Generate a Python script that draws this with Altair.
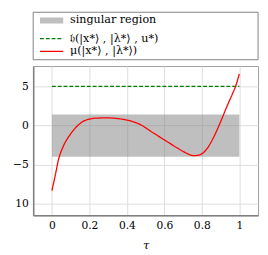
import altair as alt
import pandas as pd

# ---- data ----
mu_tau = [0.0, 0.017, 0.035, 0.06, 0.095, 0.13, 0.165, 0.205, 0.25, 0.30, 0.35, 0.395,
          0.43, 0.464, 0.50, 0.533, 0.567, 0.60, 0.633, 0.67, 0.71, 0.756, 0.79, 0.82,
          0.86, 0.89, 0.91, 0.935, 0.962, 0.98, 1.0]
mu_vals = [-8.33, -6.46, -4.37, -2.7, -1.25, -0.2, 0.5, 0.83, 0.95, 0.96, 0.88, 0.71,
           0.5, 0.2, -0.3, -0.83, -1.35, -1.85, -2.35, -2.9, -3.45, -3.87, -3.75, -3.2,
           -1.66, -0.1, 1.04, 2.5, 3.96, 5.0, 6.6]
h_tau = [0.0, 1.0]
h_vals = [5.0, 5.0]
region_tau = [0.0, 1.0]
region_bounds = [-4.0, 1.4]

series_names = ["singular region", "𝔥(|x*⟩ , |λ*⟩ , u*)", "μ(|x*⟩ , |λ*⟩)"]
series_colors = ["#808080", "#008000", "#ff0000"]
x_ticks = [0, 0.2, 0.4, 0.6, 0.8, 1]
y_ticks = [5, 0, -5, -10]

df_region = pd.DataFrame({"x0": [region_tau[0]], "x1": [region_tau[1]],
                          "y0": [region_bounds[0]], "y1": [region_bounds[1]],
                          "series": [series_names[0]]})
df_h = pd.DataFrame({"tau": h_tau, "v": h_vals, "series": series_names[1]})
df_mu = pd.DataFrame({"tau": mu_tau, "v": mu_vals, "series": series_names[2]})

SERIF = "DejaVu Serif"

color_scale = alt.Scale(domain=series_names, range=series_colors)
opacity_scale = alt.Scale(type="ordinal", domain=series_names, range=[0.5, 1, 1])
dash_scale = alt.Scale(domain=series_names, range=[[1, 0], [4, 2], [1, 0]])
width_scale = alt.Scale(type="ordinal", domain=series_names, range=[6, 1.3, 1.3])

legend = alt.Legend(title=None, orient="none", legendX=12, legendY=-54,
                    symbolType="M-3,0H3", symbolSize=64, labelFont=SERIF,
                    labelFontSize=11.5, labelColor="black", labelOffset=12,
                    rowPadding=0, padding=0)

xs = alt.Scale(domain=[-0.1, 1.1], nice=False, zero=False)
ys = alt.Scale(domain=[-11.5, 7.6], nice=False, zero=False)

xaxis = alt.Axis(values=x_ticks, format="~g", title="τ", titleFont=SERIF,
                 titleFontStyle="italic", titleFontWeight="normal", titleFontSize=12,
                 titlePadding=9, labelFont=SERIF, labelFontSize=11, labelColor="black",
                 ticks=False, labelPadding=5, domainColor="#808080", domainWidth=1.6,
                 gridColor="#dddddd")
yaxis = alt.Axis(values=y_ticks, title=None, labelFont=SERIF, labelFontSize=11,
                 labelColor="black", ticks=False, labelPadding=5,
                 labelExpr="datum.value == -10 ? '10' : datum.label",
                 domainColor="#808080", domainWidth=1.6, gridColor="#dddddd")

region = alt.Chart(df_region).mark_rect().encode(
    x=alt.X("x0:Q", scale=xs, axis=xaxis),
    x2="x1:Q",
    y=alt.Y("y0:Q", scale=ys, axis=yaxis),
    y2="y1:Q",
    color=alt.Color("series:N", scale=color_scale, legend=legend),
    opacity=alt.Opacity("series:N", scale=opacity_scale, legend=legend),
)

lines = alt.Chart(pd.concat([df_h, df_mu])).mark_line(interpolate="monotone").encode(
    x=alt.X("tau:Q", scale=xs, axis=xaxis),
    y=alt.Y("v:Q", scale=ys, axis=yaxis),
    color=alt.Color("series:N", scale=color_scale, legend=legend),
    strokeDash=alt.StrokeDash("series:N", scale=dash_scale, legend=legend),
    strokeWidth=alt.StrokeWidth("series:N", scale=width_scale, legend=legend),
    detail="series:N",
)

frame = alt.Chart(pd.DataFrame({"k": [0]})).mark_rect(
    fill=None, stroke="#808080", strokeWidth=1
).encode(x=alt.value(0), x2=alt.value(232), y=alt.value(-55.5), y2=alt.value(-6.5))

chart = alt.layer(region, lines, frame).properties(
    width=232, height=154,
    autosize=alt.AutoSizeParams(type="none"),
    padding={"left": 26, "top": 56, "right": 2, "bottom": 35},
).configure_view(stroke="#a0a0a0", strokeWidth=1)

chart.save("out.html", embed_options={"renderer": "svg", "actions": False})
